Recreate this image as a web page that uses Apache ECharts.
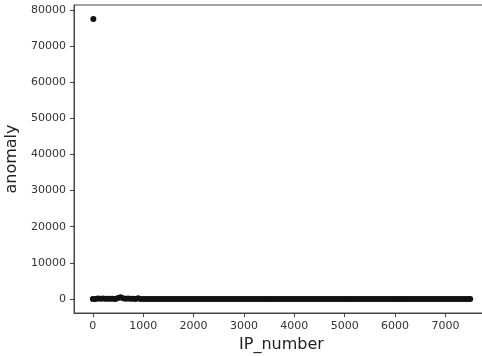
<!DOCTYPE html>
<html>
<head>
<meta charset="utf-8">
<script src="https://cdn.jsdelivr.net/npm/echarts@6/dist/echarts.min.js"></script>
<style>html,body{margin:0;padding:0;background:#fff;overflow:hidden}#c{width:482px;height:356px}</style>
</head>
<body>
<div id="c"></div>
<script>
const ipNumber = [10,
0,50,100,150,200,250,300,350,400,450,500,550,600,650,700,750,800,850,900,950,
1000,1050,1100,1150,1200,1250,1300,1350,1400,1450,1500,1550,1600,1650,1700,1750,1800,1850,1900,1950,
2000,2050,2100,2150,2200,2250,2300,2350,2400,2450,2500,2550,2600,2650,2700,2750,2800,2850,2900,2950,
3000,3050,3100,3150,3200,3250,3300,3350,3400,3450,3500,3550,3600,3650,3700,3750,3800,3850,3900,3950,
4000,4050,4100,4150,4200,4250,4300,4350,4400,4450,4500,4550,4600,4650,4700,4750,4800,4850,4900,4950,
5000,5050,5100,5150,5200,5250,5300,5350,5400,5450,5500,5550,5600,5650,5700,5750,5800,5850,5900,5950,
6000,6050,6100,6150,6200,6250,6300,6350,6400,6450,6500,6550,6600,6650,6700,6750,6800,6850,6900,6950,
7000,7050,7100,7150,7200,7250,7300,7350,7400,7450,7490];
const anomaly = [77500,
0,20,120,80,150,60,100,40,90,30,300,450,200,60,150,40,100,30,180,20,
10,0,20,0,10,0,0,10,0,0,0,10,0,0,0,0,10,0,0,0,
0,0,0,0,0,0,0,0,0,0,0,0,0,0,0,0,0,0,0,0,
0,0,0,0,0,0,0,0,0,0,0,0,0,0,0,0,0,0,0,0,
0,0,0,0,0,0,0,0,0,0,0,0,0,0,0,0,0,0,0,0,
0,0,0,0,0,0,0,0,0,0,0,0,0,0,0,0,0,0,0,0,
0,0,0,0,0,0,0,0,0,0,0,0,0,0,0,0,0,0,0,0,
0,0,0,0,0,0,0,0,0,0,0];
const xTicks = [0,1000,2000,3000,4000,5000,6000,7000];
const yTicks = [0,10000,20000,30000,40000,50000,60000,70000,80000];

const pts = ipNumber.map((x,i)=>[x, anomaly[i]]);
const font = 'DejaVu Sans';
const chart = echarts.init(document.getElementById('c'));
chart.setOption({
  animation:false,
  grid:{left:74,top:5,width:415,height:308,show:true,borderColor:'#444',borderWidth:1,backgroundColor:'transparent',containLabel:false,outerBoundsMode:'none'},
  xAxis:{type:'value',min:-374,max:7864,
    name:'IP_number',nameLocation:'middle',nameGap:24,
    nameTextStyle:{fontFamily:font,fontSize:16,color:'#222'},
    splitLine:{show:false},
    axisLine:{show:true,onZero:false,lineStyle:{color:'#444'}},
    axisTick:{show:true,length:4,inside:false,customValues:xTicks,lineStyle:{color:'#444'}},
    axisLabel:{customValues:xTicks,formatter:v=>String(v),fontFamily:font,fontSize:11,color:'#333',margin:8}
  },
  yAxis:{type:'value',min:-3875,max:81375,
    name:'anomaly',nameLocation:'middle',nameGap:51,
    nameTextStyle:{fontFamily:font,fontSize:16,color:'#222'},
    splitLine:{show:false},
    axisLine:{show:true,onZero:false,lineStyle:{color:'#444'}},
    axisTick:{show:true,length:4,inside:false,customValues:yTicks,lineStyle:{color:'#444'}},
    axisLabel:{customValues:yTicks,formatter:v=>String(v),fontFamily:font,fontSize:11,color:'#333',margin:8}
  },
  series:[{type:'scatter',data:pts,symbolSize:6,itemStyle:{color:'#111',opacity:1}}]
});
</script>
</body>
</html>
